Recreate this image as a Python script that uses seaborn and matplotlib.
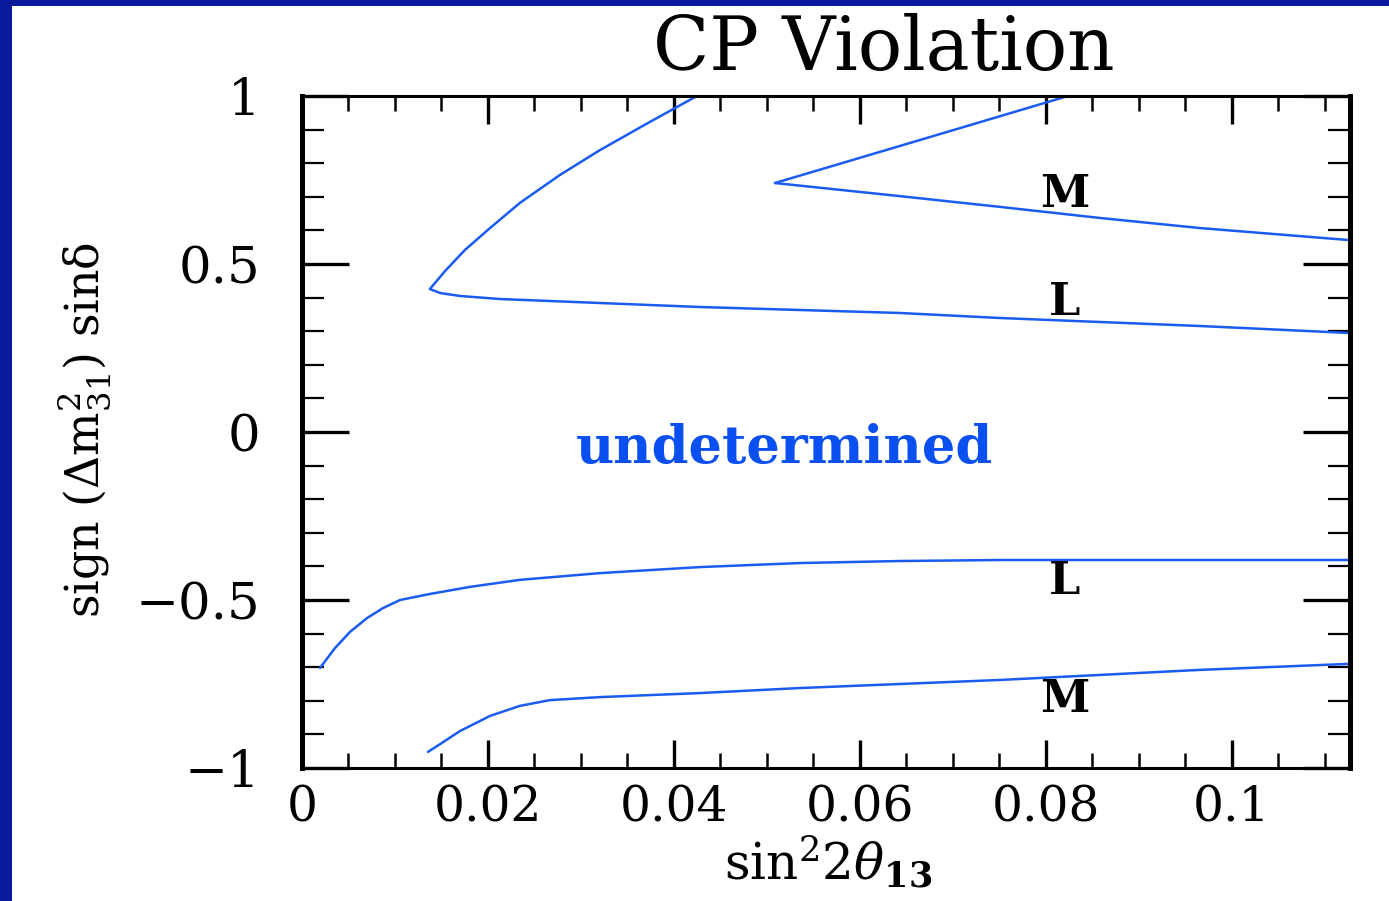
import matplotlib
matplotlib.use("Agg")
import matplotlib.pyplot as plt
import matplotlib.patches as mpatches
from matplotlib.ticker import MultipleLocator, FixedLocator
import pandas as pd
import seaborn as sns

# Boundaries of the sign(dm31^2) sin(delta) determination regions
# (L = low-energy setup, M = medium-energy setup) vs sin^2(2 theta13)
upper_L_rise_x = [0.01376, 0.01538, 0.01753, 0.02022, 0.02344, 0.02774, 0.03204, 0.03742, 0.04247]
upper_L_rise_y = [0.4256, 0.479, 0.542, 0.607, 0.682, 0.765, 0.839, 0.923, 1.0]
upper_L_flat_x = [0.01376, 0.01484, 0.01699, 0.02129, 0.03204, 0.04280, 0.05355, 0.06430,
                  0.07505, 0.08581, 0.09656, 0.11269]
upper_L_flat_y = [0.4256, 0.4137, 0.4048, 0.3958, 0.3839, 0.3720, 0.3631, 0.3542,
                  0.3393, 0.3274, 0.3155, 0.2946]
upper_M_rise_x = [0.05086, 0.06645, 0.08237]
upper_M_rise_y = [0.741, 0.869, 1.0]
upper_M_flat_x = [0.05086, 0.06430, 0.07505, 0.08581, 0.09656, 0.11269]
upper_M_flat_y = [0.741, 0.702, 0.670, 0.637, 0.607, 0.571]
lower_L_x = [0.00194, 0.00355, 0.00516, 0.00699, 0.00871, 0.01054, 0.01376, 0.01806,
             0.02344, 0.03204, 0.04280, 0.05355, 0.06430, 0.07505, 0.11269]
lower_L_y = [-0.702, -0.643, -0.595, -0.554, -0.524, -0.500, -0.482, -0.461,
             -0.440, -0.420, -0.402, -0.390, -0.384, -0.381, -0.381]
lower_M_x = [0.01355, 0.01484, 0.01699, 0.02022, 0.02344, 0.02667, 0.03204, 0.04280,
             0.05355, 0.06430, 0.07505, 0.08581, 0.09656, 0.11269]
lower_M_y = [-0.952, -0.929, -0.890, -0.845, -0.815, -0.798, -0.789, -0.777,
             -0.762, -0.750, -0.738, -0.723, -0.708, -0.690]

x_ticks = [0, 0.02, 0.04, 0.06, 0.08, 0.1]
x_tick_labels = ["0", "0.02", "0.04", "0.06", "0.08", "0.1"]
y_ticks = [-1, -0.5, 0, 0.5, 1]
y_tick_labels = ["\u22121", "\u22120.5", "0", "0.5", "1"]

region_labels = ["M", "L", "L", "M"]
region_label_x = [0.0820, 0.0820, 0.0820, 0.0820]
region_label_y = [0.708, 0.384, -0.446, -0.795]

branches = {
    "upper_L_rise": (upper_L_rise_x, upper_L_rise_y),
    "upper_L_flat": (upper_L_flat_x, upper_L_flat_y),
    "upper_M_rise": (upper_M_rise_x, upper_M_rise_y),
    "upper_M_flat": (upper_M_flat_x, upper_M_flat_y),
    "lower_L": (lower_L_x, lower_L_y),
    "lower_M": (lower_M_x, lower_M_y),
}
frames = [pd.DataFrame({"x": bx, "y": by, "branch": name}) for name, (bx, by) in branches.items()]
df = pd.concat(frames, ignore_index=True)

sns.set_style("ticks")
plt.rcParams["font.family"] = ["DejaVu Serif"]
plt.rcParams["mathtext.fontset"] = "dejavuserif"
for key in ["text.color", "axes.labelcolor", "xtick.color", "ytick.color", "axes.edgecolor"]:
    plt.rcParams[key] = "black"

W, H = 1389, 901
fig = plt.figure(figsize=(W / 100, H / 100), dpi=100, facecolor="white")
ax = fig.add_axes([302 / W, 1 - 768 / H, 1048 / W, 672 / H])

LINE = "#1a5cf2"
sns.lineplot(data=df, x="x", y="y", units="branch", estimator=None, sort=False,
             color=LINE, linewidth=1.8, ax=ax, legend=False)

ax.set_xlim(0, 0.1127)
ax.set_ylim(-1, 1)
ax.set_xlabel("")
ax.set_ylabel("")

ax.xaxis.set_major_locator(FixedLocator(x_ticks))
ax.xaxis.set_minor_locator(MultipleLocator(0.005))
ax.yaxis.set_major_locator(FixedLocator(y_ticks))
ax.yaxis.set_minor_locator(MultipleLocator(0.1))
ax.set_xticklabels(x_tick_labels)
ax.set_yticklabels(y_tick_labels)

ax.tick_params(axis="both", which="both", direction="in", top=True, right=True, color="black")
ax.tick_params(axis="x", which="major", length=20, width=2.4, pad=12, labelsize=35)
ax.tick_params(axis="x", which="minor", length=11, width=1.8)
ax.tick_params(axis="y", which="major", length=34, width=2.4, pad=30, labelsize=37)
ax.tick_params(axis="y", which="minor", length=16, width=1.6)

for side in ["left", "right"]:
    ax.spines[side].set_linewidth(3.6)
for side in ["top", "bottom"]:
    ax.spines[side].set_linewidth(2.2)
for sp in ax.spines.values():
    sp.set_color("black")
    sp.set_visible(True)

for txt, tx, ty in zip(region_labels, region_label_x, region_label_y):
    ax.text(tx, ty, txt, ha="center", va="center", fontsize=32,
            fontweight="bold", color="black")

ax.text(0.0519, -0.092, "undetermined", ha="center", va="baseline",
        fontsize=38, fontweight="bold", color="#0a4ff0")

fig.text(884 / W, 1 - 70 / H, "CP Violation", ha="center", va="baseline", fontsize=53)
fig.text(828 / W, 1 - 880 / H, r"$\mathrm{sin^22}\theta_{\mathbf{13}}$",
         ha="center", va="baseline", fontsize=36)
fig.text(85 / W, 1 - 430 / H, r"$\mathrm{sign\ (Δm^2_{31})\ sinδ}$",
         ha="center", va="center", rotation=90, fontsize=33)

# dark blue frame strips along top and left edges
BORDER = "#0a189c"
fig.patches.append(mpatches.Rectangle((0, 1 - 6 / H), 1, 6 / H, transform=fig.transFigure,
                                      facecolor=BORDER, edgecolor="none", zorder=10))
fig.patches.append(mpatches.Rectangle((0, 0), 12 / W, 1, transform=fig.transFigure,
                                      facecolor=BORDER, edgecolor="none", zorder=10))

fig.savefig("out.png", dpi=100, facecolor="white")
